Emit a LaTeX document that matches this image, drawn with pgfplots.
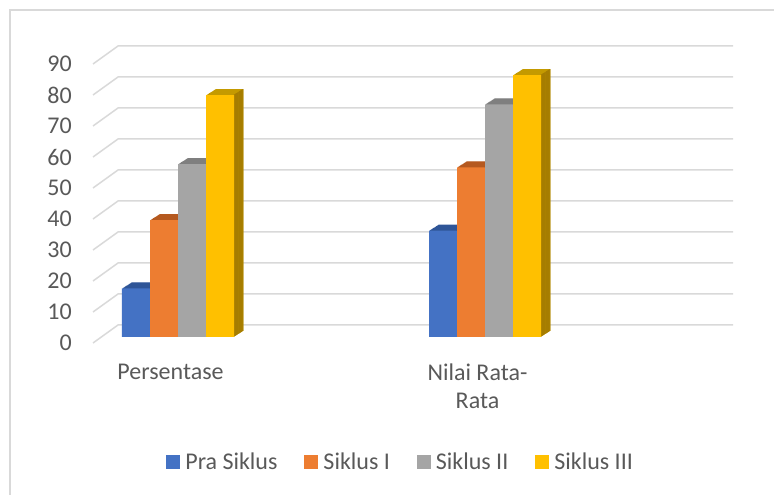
\documentclass[border=0pt]{standalone}
\usepackage{pgfplots}
\pgfplotsset{compat=1.18}
\usepackage{pgfplotstable}
\usepackage{fontspec}
\setmainfont{Carlito}
\definecolor{cBlue}{HTML}{4472C4}
\definecolor{cBlueT}{HTML}{2F5597}
\definecolor{cBlueS}{HTML}{284A85}
\definecolor{cOrange}{HTML}{ED7D31}
\definecolor{cOrangeT}{HTML}{B5591F}
\definecolor{cOrangeS}{HTML}{9C4C1A}
\definecolor{cGray}{HTML}{A5A5A5}
\definecolor{cGrayT}{HTML}{7F7F7F}
\definecolor{cGrayS}{HTML}{6E6E6E}
\definecolor{cYellow}{HTML}{FFC000}
\definecolor{cYellowT}{HTML}{C49A00}
\definecolor{cYellowS}{HTML}{A67D00}
\definecolor{cGrid}{HTML}{D9D9D9}
\definecolor{cText}{HTML}{595959}

\pgfplotstableread{
cat a b c d
0 15.7 37.7 55.8 78.0
1 34.3 54.7 75.0 84.5
}\data

\newcommand{\depthbar}[5]{%
  \pgfplotsinvokeforeach{1,...,12}{%
    \addplot[ybar, forget plot, draw=none, fill=#4, bar width=28pt,
      bar shift={(#2+##1*0.79)*1pt}, yshift={##1*0.5pt}] table[x=cat,y=#1]{\data};
  }%
  \pgfplotsinvokeforeach{1,...,12}{%
    \addplot[ybar, forget plot, draw=none, fill=#5, bar width=1.2pt,
      bar shift={(#2+13.4+##1*0.79)*1pt}, yshift={##1*0.5pt}] table[x=cat,y=#1]{\data};
  }%
  \addplot[ybar, draw=none, fill=#3, bar width=28pt, bar shift=#2pt] table[x=cat,y=#1]{\data};
}

\begin{document}
\begin{tikzpicture}[x=1pt,y=1pt]
\path[use as bounding box] (0,0) rectangle (774,495);
\draw[cGrid, line width=1.5pt] (10,-5) -- (10,485) -- (780,485);
\begin{axis}[
  at={(93pt,158pt)}, anchor=south west,
  x=307pt, y=3.1pt,
  xmin=-0.27687, xmax=1.80782, ymin=0, ymax=90,
  clip=false,
  axis line style={draw=none},
  major tick length=0pt,
  ytick={0,10,...,90},
  /pgf/number format/assume math mode=true,
  yticklabel style={anchor=east, inner sep=0pt, xshift=-21pt, yshift=-6pt,
    font=\fontsize{24}{28}\selectfont, text=cText},
  xtick={0,1},
  xticklabels={Persentase,{Nilai Rata-\\Rata}},
  xticklabel style={anchor=north, align=center, inner sep=0pt, xshift=-7.5pt, yshift=-27pt,
    font=\fontsize{24}{28}\selectfont, text=cText},
  legend image code/.code={\fill (0pt,-7pt) rectangle (14pt,7pt);},
  legend style={at={(0.483,-0.448)}, anchor=center, draw=none, fill=none,
    legend columns=4, font=\fontsize{24}{28}\selectfont, text=cText,
    nodes={inner sep=0pt, inner xsep=5pt},
    /tikz/every even column/.append style={column sep=22pt}},
]
\pgfplotsinvokeforeach{0,10,20,30,40,50,60,70,80,90}{%
  \draw[cGrid, line width=1.5pt] ([yshift=-6pt]axis cs:-0.27687,#1) -- ([yshift=12pt]axis cs:-0.19544,#1) -- ([yshift=12pt]axis cs:1.80782,#1);
}
\depthbar{a}{-42}{cBlue}{cBlueT}{cBlueS}
\addlegendentry{Pra Siklus}
\depthbar{b}{-14}{cOrange}{cOrangeT}{cOrangeS}
\addlegendentry{Siklus I}
\depthbar{c}{14}{cGray}{cGrayT}{cGrayS}
\addlegendentry{Siklus II}
\depthbar{d}{42}{cYellow}{cYellowT}{cYellowS}
\addlegendentry{Siklus III}
\end{axis}
\end{tikzpicture}
\end{document}
